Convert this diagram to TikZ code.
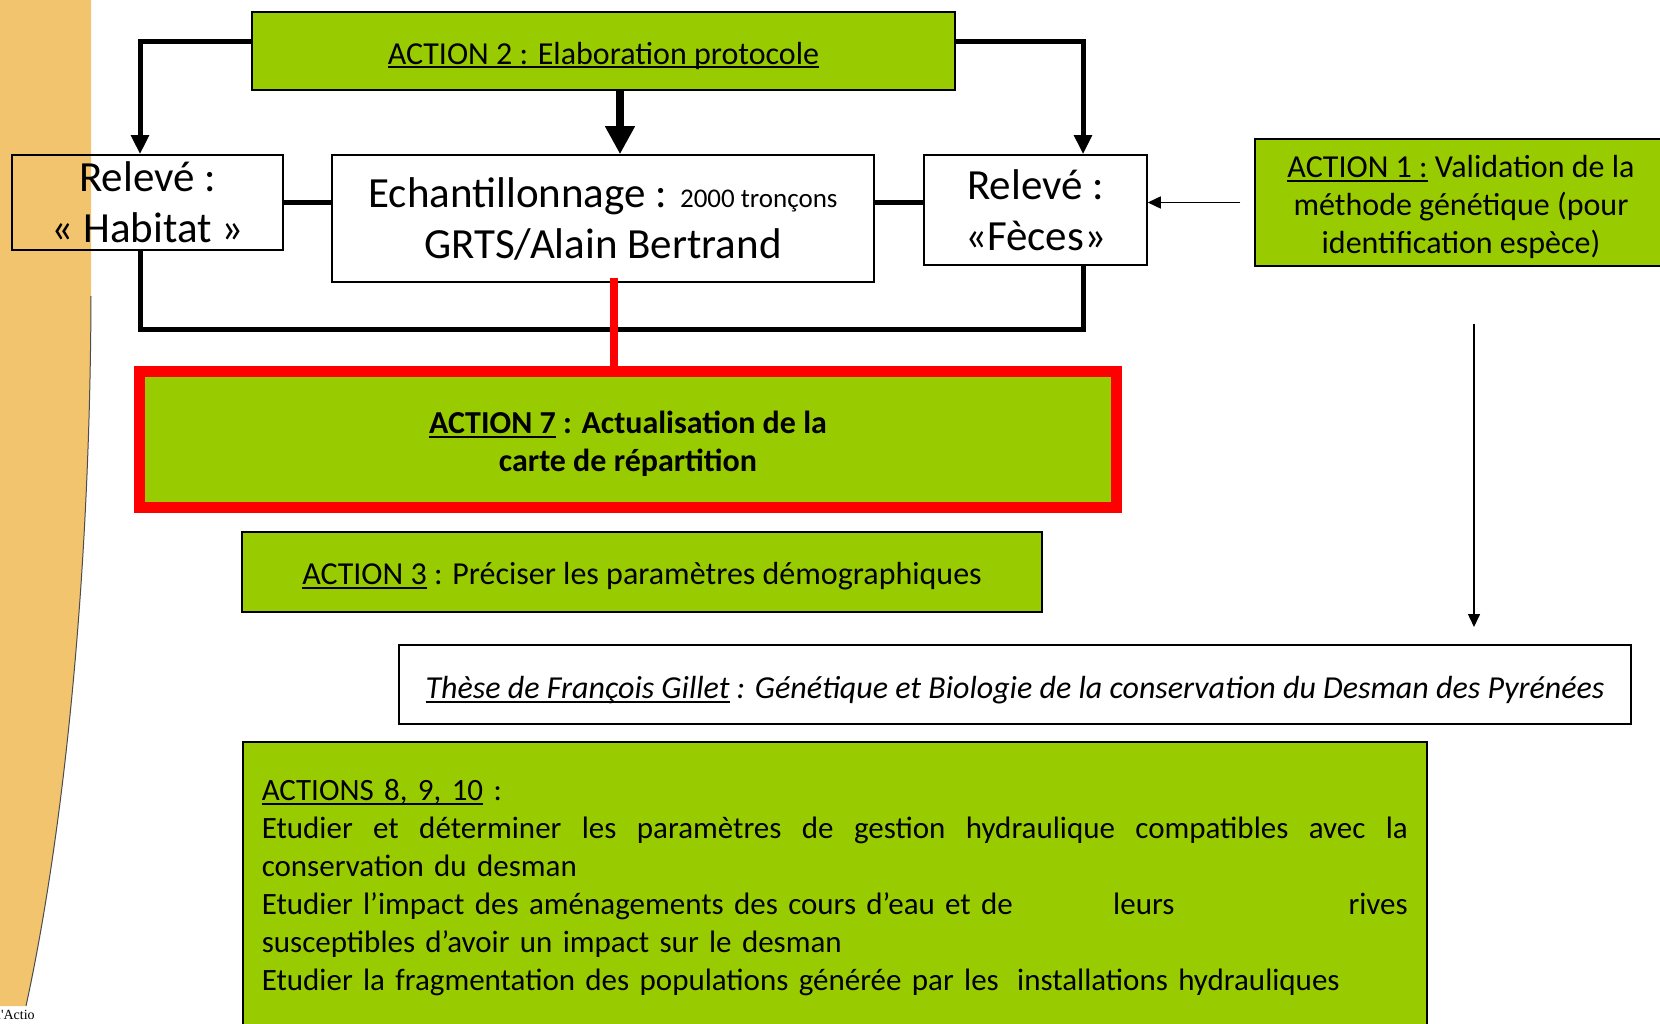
\documentclass[tikz,border=0pt]{standalone}
\usepackage{fontspec}
\setmainfont{Carlito}
\newfontfamily\notefont{Liberation Serif}
\usetikzlibrary{arrows.meta}

\definecolor{actgreen}{RGB}{153,204,0}
\definecolor{bandorange}{RGB}{242,196,110}
\definecolor{boxred}{RGB}{255,0,0}

% underline like the office one
\newcommand{\undl}[1]{\setbox0\hbox{#1}\rlap{\rule[-0.13em]{\wd0}{0.06em}}\box0\relax}
% a bit more room above the first line
\newcommand{\toproom}{\rule{0pt}{0.98em}}

\tikzset{
  box/.style={draw=black, line width=1.5pt, inner sep=0pt, align=center, fill=white},
  greenbox/.style={box, fill=actgreen},
  link/.style={line width=5pt},
  linkarrow/.style={link, -{Triangle[length=19pt,width=17pt]}},
  bigarrow/.style={line width=8pt, -{Triangle[length=28pt,width=28pt]}},
  thinarrow/.style={line width=1.5pt, -{Triangle[length=13pt,width=12pt]}},
  redlink/.style={line width=8.5pt, color=boxred},
  big/.style={font=\fontsize{43}{51}\selectfont},
  normal/.style={font=\fontsize{32}{38}\selectfont}
}

\begin{document}
\begin{tikzpicture}[x=1pt, y=-1pt]
\useasboundingbox (0,0) rectangle (1660,1024);
\fill[white] (0,0) rectangle (1660,1024);

%orange band on the left:
\fill[bandorange] (0,0) -- (91,0) -- (91,296) .. controls (90,600) and (60,850) .. (26,1006) -- (0,1006) -- cycle;
\draw[line width=1pt, black!70] (91,296) .. controls (90,600) and (60,850) .. (26,1006);
\node[anchor=north west, inner sep=0pt, font=\notefont\fontsize{14}{14}\selectfont] (note) at (-3,1010) {l'Actio};

%boxes of the top row:
\node[greenbox, normal, minimum width=703pt, minimum height=78pt] (act2) at (603.5,51) {\toproom\undl{ACTION 2 : Elaboration protocole}};
\node[box, big, minimum width=271pt, minimum height=95pt, fill=none] (habitat) at (147.5,202.5) {Relevé :\\« Habitat »};
\node[box, big, minimum width=542pt, minimum height=127pt] (echant) at (603,218.5) {Echantillonnage : {\fontsize{27}{27}\selectfont 2000 tronçons}\\GRTS/Alain Bertrand};
\node[box, big, minimum width=223pt, minimum height=110pt] (feces) at (1035.5,210) {Relevé :\\«Fèces»};
\node[greenbox, normal, minimum width=412pt, minimum height=127pt] (act1) at (1461,202.5) {\toproom\undl{ACTION 1 :} Validation de la\\méthode génétique (pour\\identification espèce)};

%actions below:
\node[greenbox, normal, draw=boxred, line width=11pt, minimum width=977pt, minimum height=136pt, font=\fontsize{32}{38}\selectfont\bfseries] (act7) at (628,439.5) {\toproom\undl{ACTION 7} : Actualisation de la\\carte de répartition};
\node[greenbox, normal, minimum width=800pt, minimum height=80pt] (act3) at (642,572) {\toproom\undl{ACTION 3} : Préciser les paramètres démographiques};
\node[box, normal, minimum width=1232pt, minimum height=79pt, font=\fontsize{32}{38}\selectfont\itshape] (these) at (1015,684.5) {\rule{0pt}{1.05em}\undl{Thèse de François Gillet} : Génétique et Biologie de la conservation du Desman des Pyrénées};
\node[greenbox, anchor=north west, align=left, text width=1146pt, inner xsep=19pt, inner ysep=38pt, font=\fontsize{31}{38}\selectfont] (act8) at (242,741) {%
\undl{ACTIONS 8, 9, 10} :\\
\makebox[\hsize]{Etudier\hfill et\hfill déterminer\hfill les\hfill paramètres\hfill de\hfill gestion\hfill hydraulique\hfill compatibles\hfill avec\hfill la}\\
conservation du desman\\
\makebox[\hsize]{Etudier l’impact des aménagements des cours d’eau et de\hspace{90pt} leurs\hfill rives}\\
susceptibles d’avoir un impact sur le desman\\
Etudier la fragmentation des populations générée par les\hspace{8pt} installations hydrauliques};

%connectors:
\draw[linkarrow] ([yshift=9pt]act2.west) -| ([xshift=-7.5pt]habitat.north);
\draw[linkarrow] ([yshift=9pt]act2.east) -| ([xshift=47.5pt]feces.north);
\draw[bigarrow] ([xshift=16.5pt]act2.south) -- ([xshift=16.5pt]act2.south |- echant.north);
\draw[link] (habitat.east) -- (habitat.east -| echant.west);
\draw[link] (habitat.east -| echant.east) -- (habitat.east -| feces.west);
\coordinate (loop) at (140,330);
\draw[link] ([xshift=-7.5pt]habitat.south) -- (loop) -| ([xshift=47.5pt]feces.south);
\draw[redlink] ([xshift=11pt,yshift=5pt]echant.south) -- ([xshift=11pt]echant.south |- act7.north);
\draw[thinarrow] ([xshift=-14pt]act1.west) -- (act1.west -| feces.east);
\coordinate (vtop) at (1474,324);
\coordinate (vbot) at (1474,627);
\draw[thinarrow] (vtop) -- (vbot);
\end{tikzpicture}
\end{document}
